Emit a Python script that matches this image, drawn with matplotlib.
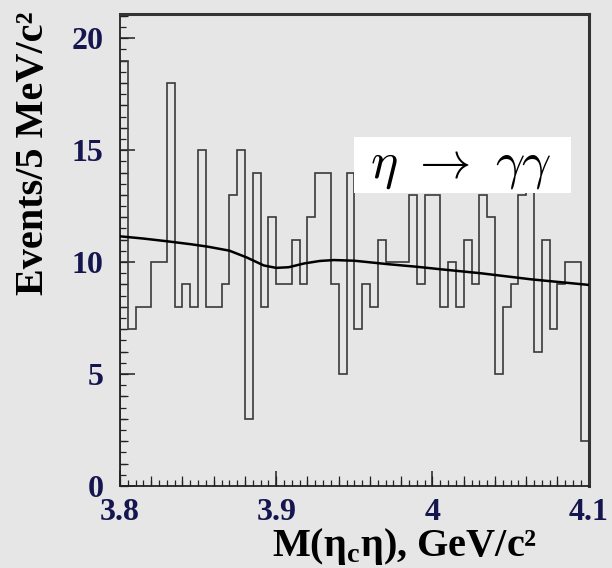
import numpy as np
import matplotlib
matplotlib.use("Agg")
import matplotlib.pyplot as plt
from matplotlib.ticker import MultipleLocator
from matplotlib.patches import Rectangle

# 5 MeV bins from 3.80 to 4.10 GeV
m_lo, m_hi, n_bins = 3.80, 4.10, 60
counts = [19, 7, 8, 8, 10, 10, 18, 8, 9, 8,
          15, 8, 8, 9, 13, 15, 3, 14, 8, 12,
          9, 9, 11, 9, 12, 14, 14, 9, 5, 14,
          7, 9, 8, 11, 10, 10, 10, 13, 9, 13,
          13, 8, 10, 8, 11, 9, 13, 12, 5, 8,
          9, 13, 14, 6, 11, 7, 9, 10, 10, 2]

# background fit curve
fit_m = [3.800, 3.815, 3.830, 3.845, 3.856, 3.870, 3.881, 3.892, 3.900, 3.908,
         3.918, 3.928, 3.937, 3.950, 3.971, 3.990, 4.005, 4.031, 4.063, 4.100]
fit_n = [11.15, 11.05, 10.93, 10.80, 10.69, 10.51, 10.21, 9.85, 9.74, 9.77,
         9.94, 10.05, 10.09, 10.06, 9.91, 9.79, 9.68, 9.50, 9.23, 8.98]

bg = "#e6e6e6"
navy = "#15154f"
serif = "Liberation Serif"

fig = plt.figure(figsize=(6.12, 5.68), dpi=100, facecolor=bg)
ax = fig.add_axes([0.196, 0.1444, 0.766, 0.831], facecolor=bg)

edges = np.linspace(m_lo, m_hi, n_bins + 1)
ax.stairs(counts, edges, color="#3a3a3a", lw=1.2, baseline=0, zorder=2)
ax.plot(fit_m, fit_n, color="black", lw=1.8, zorder=3)

# label box
ax.add_patch(Rectangle((3.950, 13.09), 0.1385, 2.5, facecolor="white",
                       edgecolor="none", zorder=4))
ax.text(4.0180, 14.30, r"$\eta\ \rightarrow\ \gamma\gamma$", fontsize=37,
        math_fontfamily="cm", ha="center", va="center", zorder=5)

ax.set_xlim(m_lo, m_hi)
ax.set_ylim(0, 21.08)

ax.xaxis.set_major_locator(MultipleLocator(0.1))
ax.xaxis.set_minor_locator(MultipleLocator(0.005))
ax.yaxis.set_major_locator(MultipleLocator(5))
ax.yaxis.set_minor_locator(MultipleLocator(0.5))
ax.tick_params(which="major", direction="in", length=11, width=1.1, color="#222222",
               top=False, right=False)
ax.tick_params(which="minor", direction="in", length=4, width=0.9, color="#222222",
               top=False, right=False)
ax.tick_params(axis="y", which="major", pad=12)
ax.tick_params(axis="x", which="major", pad=9)

# intermediate ticks
sx = ax.secondary_xaxis("bottom")
sx.xaxis.set_major_locator(MultipleLocator(0.02))
sx.tick_params(direction="in", length=7, width=0.9, color="#222222", labelbottom=False)
sx.spines["bottom"].set_visible(False)
sy = ax.secondary_yaxis("left")
sy.yaxis.set_major_locator(MultipleLocator(1))
sy.tick_params(direction="in", length=6, width=0.9, color="#222222", labelleft=False)
sy.spines["left"].set_visible(False)

ax.set_xticks([3.8, 3.9, 4.0, 4.1])
ax.set_xticklabels(["3.8", "3.9", "4", "4.1"])
for lab in ax.get_xticklabels() + ax.get_yticklabels():
    lab.set_fontfamily(serif)
    lab.set_fontweight("bold")
    lab.set_fontsize(23)
    lab.set_color(navy)

for side in ["left", "bottom"]:
    ax.spines[side].set_linewidth(1.3)
    ax.spines[side].set_color("#222222")
for side in ["top", "right"]:
    ax.spines[side].set_linewidth(2.2)
    ax.spines[side].set_color("#333333")

ax.set_xlabel(r"M(η$_\mathregular{c}$η), GeV/c²", fontfamily=serif,
              fontweight="bold", fontsize=29, color="black", ha="right", va="baseline")
ax.xaxis.set_label_coords(0.889, -0.148)
ax.set_ylabel("Events/5 MeV/c²", fontfamily=serif,
              fontweight="bold", fontsize=29, color="black")
ax.yaxis.set_label_coords(-0.145, 0.704)

fig.savefig("out.png", dpi=100, facecolor=bg)
